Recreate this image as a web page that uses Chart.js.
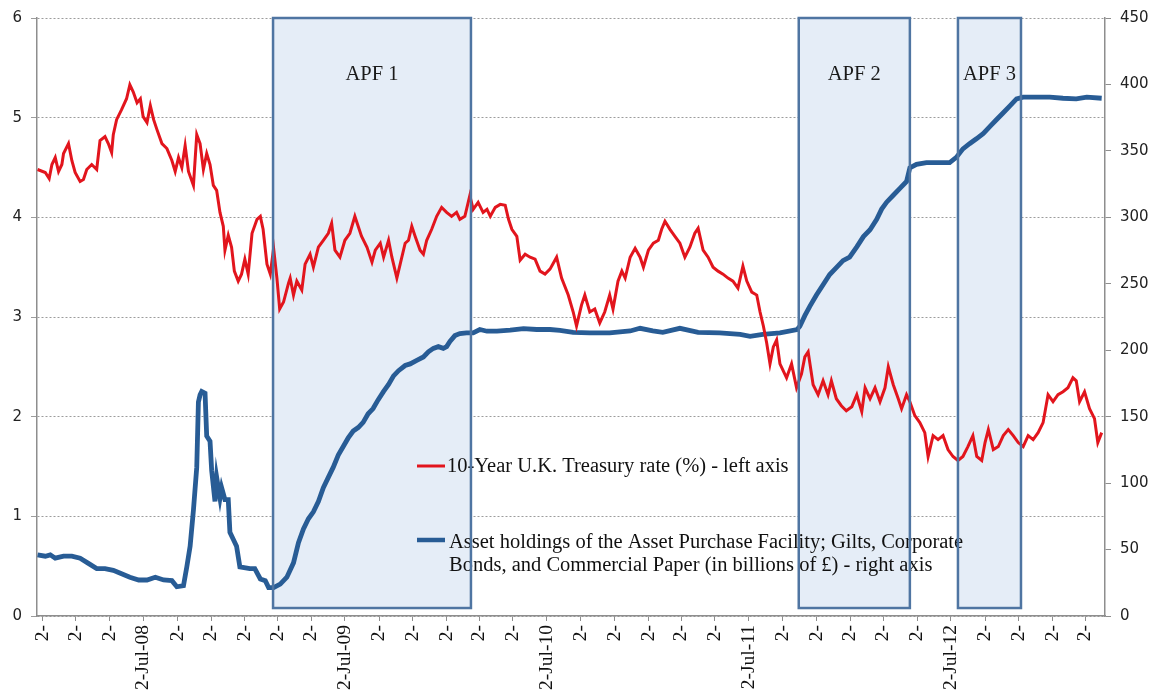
<!DOCTYPE html>
<html>
<head>
<meta charset="utf-8">
<script src="https://cdn.jsdelivr.net/npm/chart.js@4.4.0/dist/chart.umd.min.js"></script>
<style>
  html, body { margin: 0; padding: 0; background: #ffffff; }
  canvas { display: block; }
</style>
</head>
<body>
<canvas id="chart" width="1157" height="694"></canvas>
<script>
// 10-year gilt yield (%), left axis
const rateDates = [
  '2007-12-24','2008-01-07','2008-01-14','2008-01-19','2008-01-25','2008-01-31','2008-02-06','2008-02-09',
  '2008-02-18','2008-02-24','2008-03-01','2008-03-10','2008-03-16','2008-03-22','2008-03-31','2008-04-09',
  '2008-04-15','2008-04-24','2008-04-30','2008-05-06','2008-05-09','2008-05-15','2008-05-24','2008-06-02',
  '2008-06-08','2008-06-14','2008-06-21','2008-06-27','2008-07-02','2008-07-09','2008-07-15','2008-07-21',
  '2008-07-27','2008-08-05','2008-08-14','2008-08-23','2008-08-29','2008-09-04','2008-09-10','2008-09-16',
  '2008-09-22','2008-10-01','2008-10-07','2008-10-13','2008-10-19','2008-10-25','2008-10-31','2008-11-06',
  '2008-11-12','2008-11-18','2008-11-24','2008-11-27','2008-12-03','2008-12-09','2008-12-14','2008-12-21',
  '2008-12-27','2009-01-02','2009-01-08','2009-01-15','2009-01-24','2009-01-30','2009-02-04','2009-02-11',
  '2009-02-17','2009-02-23','2009-03-01','2009-03-06','2009-03-13','2009-03-22','2009-03-25','2009-03-31',
  '2009-04-06','2009-04-15','2009-04-21','2009-04-30','2009-05-06','2009-05-15','2009-05-24','2009-06-02',
  '2009-06-08','2009-06-14','2009-06-23','2009-07-02','2009-07-11','2009-07-20','2009-07-26','2009-08-01',
  '2009-08-11','2009-08-20','2009-08-26','2009-09-04','2009-09-10','2009-09-19','2009-09-25','2009-10-04',
  '2009-10-10','2009-10-19','2009-10-25','2009-10-31','2009-11-06','2009-11-15','2009-11-21','2009-11-27',
  '2009-12-06','2009-12-15','2009-12-24','2010-01-02','2010-01-11','2010-01-20','2010-01-26','2010-02-04',
  '2010-02-13','2010-02-19','2010-02-28','2010-03-09','2010-03-16','2010-03-22','2010-03-31','2010-04-09',
  '2010-04-18','2010-04-24','2010-04-30','2010-05-09','2010-05-15','2010-05-24','2010-06-02','2010-06-11',
  '2010-06-20','2010-06-29','2010-07-08','2010-07-20','2010-07-29','2010-08-10','2010-08-19','2010-08-25',
  '2010-09-03','2010-09-09','2010-09-18','2010-09-27','2010-10-06','2010-10-15','2010-10-24','2010-10-30',
  '2010-11-08','2010-11-15','2010-11-21','2010-11-30','2010-12-09','2010-12-18','2010-12-24','2011-01-02',
  '2011-01-11','2011-01-20','2011-01-26','2011-02-01','2011-02-10','2011-02-19','2011-02-28','2011-03-09',
  '2011-03-18','2011-03-27','2011-04-02','2011-04-11','2011-04-20','2011-04-29','2011-05-08','2011-05-17',
  '2011-05-26','2011-06-04','2011-06-13','2011-06-22','2011-06-29','2011-07-08','2011-07-17','2011-07-23',
  '2011-07-29','2011-08-04','2011-08-10','2011-08-16','2011-08-22','2011-08-28','2011-09-03','2011-09-09',
  '2011-09-18','2011-09-27','2011-10-06','2011-10-12','2011-10-18','2011-10-27','2011-11-05','2011-11-14',
  '2011-11-23','2011-11-29','2011-12-08','2011-12-17','2011-12-26','2012-01-05','2012-01-14','2012-01-23',
  '2012-01-29','2012-02-07','2012-02-16','2012-02-25','2012-03-05','2012-03-11','2012-03-20','2012-03-29',
  '2012-04-04','2012-04-13','2012-04-19','2012-04-28','2012-05-07','2012-05-16','2012-05-22','2012-05-31',
  '2012-06-09','2012-06-18','2012-06-27','2012-07-06','2012-07-15','2012-07-24','2012-08-02','2012-08-11',
  '2012-08-18','2012-08-27','2012-09-02','2012-09-08','2012-09-17','2012-09-26','2012-10-05','2012-10-14',
  '2012-10-23','2012-11-01','2012-11-10','2012-11-19','2012-11-28','2012-12-07','2012-12-16','2012-12-25',
  '2013-01-03','2013-01-12','2013-01-21','2013-01-30','2013-02-08','2013-02-14','2013-02-20','2013-03-01',
  '2013-03-10','2013-03-19','2013-03-25','2013-04-01'
];
const rateValues = [
  4.48,4.45,4.39,4.53,4.60,4.46,4.53,4.64,
  4.74,4.57,4.45,4.36,4.38,4.48,4.53,4.48,
  4.77,4.81,4.74,4.65,4.83,4.98,5.08,5.19,
  5.33,5.26,5.15,5.19,5.01,4.95,5.12,4.98,
  4.88,4.74,4.69,4.57,4.46,4.60,4.50,4.72,
  4.46,4.32,4.83,4.74,4.48,4.64,4.53,4.32,
  4.27,4.05,3.91,3.67,3.82,3.70,3.46,3.36,
  3.43,3.58,3.43,3.84,3.98,4.01,3.88,3.53,
  3.43,3.69,3.39,3.08,3.15,3.34,3.39,3.22,
  3.36,3.27,3.53,3.63,3.50,3.70,3.77,3.84,
  3.94,3.67,3.60,3.77,3.84,4.01,3.91,3.81,
  3.70,3.55,3.67,3.74,3.60,3.77,3.60,3.39,
  3.53,3.74,3.77,3.91,3.81,3.67,3.63,3.77,
  3.88,4.01,4.10,4.05,4.01,4.05,3.98,4.01,
  4.22,4.08,4.15,4.05,4.08,4.01,4.10,4.13,
  4.12,3.98,3.88,3.81,3.57,3.63,3.60,3.58,
  3.46,3.43,3.48,3.60,3.39,3.22,3.05,2.91,
  3.12,3.22,3.05,3.08,2.94,3.05,3.22,3.08,
  3.36,3.46,3.39,3.60,3.69,3.60,3.50,3.67,
  3.74,3.77,3.88,3.96,3.88,3.81,3.74,3.60,
  3.70,3.84,3.89,3.67,3.60,3.50,3.46,3.43,
  3.39,3.36,3.29,3.51,3.36,3.25,3.22,3.05,
  2.91,2.74,2.53,2.70,2.77,2.53,2.46,2.39,
  2.53,2.29,2.43,2.60,2.65,2.32,2.22,2.36,
  2.22,2.36,2.18,2.11,2.06,2.10,2.22,2.05,
  2.29,2.18,2.29,2.15,2.29,2.50,2.32,2.18,
  2.08,2.22,2.15,2.01,1.94,1.84,1.60,1.81,
  1.77,1.81,1.67,1.60,1.56,1.60,1.70,1.81,
  1.60,1.56,1.74,1.87,1.67,1.70,1.81,1.87,
  1.81,1.74,1.70,1.81,1.77,1.84,1.94,2.22,
  2.15,2.22,2.25,2.29,2.39,2.36,2.15,2.25,
  2.08,1.98,1.74,1.84
];

// Asset Purchase Facility holdings (£bn), right axis
const holdingDates = [
  '2007-12-24','2008-01-07','2008-01-16','2008-01-25','2008-02-09','2008-02-24','2008-03-10','2008-03-25',
  '2008-04-09','2008-04-24','2008-05-09','2008-05-24','2008-06-08','2008-06-24','2008-07-09','2008-07-24',
  '2008-08-08','2008-08-23','2008-09-01','2008-09-13','2008-09-19','2008-09-25','2008-10-01','2008-10-07',
  '2008-10-10','2008-10-13','2008-10-16','2008-10-22','2008-10-25','2008-10-31','2008-11-03','2008-11-09',
  '2008-11-12','2008-11-18','2008-11-21','2008-11-27','2008-12-03','2008-12-06','2008-12-12','2008-12-18',
  '2008-12-24','2009-01-11','2009-01-20','2009-01-30','2009-02-08','2009-02-14','2009-02-23','2009-03-07',
  '2009-03-19','2009-03-31','2009-04-09','2009-04-18','2009-04-27','2009-05-06','2009-05-15','2009-05-24',
  '2009-06-02','2009-06-11','2009-06-20','2009-06-29','2009-07-08','2009-07-17','2009-07-26','2009-08-04',
  '2009-08-13','2009-08-22','2009-08-31','2009-09-10','2009-09-19','2009-09-28','2009-10-07','2009-10-19',
  '2009-10-28','2009-11-09','2009-11-21','2009-11-30','2009-12-09','2009-12-18','2009-12-27','2010-01-02',
  '2010-01-08','2010-01-17','2010-01-26','2010-02-07','2010-02-19','2010-03-03','2010-03-16','2010-04-03',
  '2010-04-27','2010-05-21','2010-06-14','2010-07-08','2010-07-26','2010-08-19','2010-09-18','2010-10-24',
  '2010-11-30','2010-12-18','2011-01-10','2011-01-28','2011-02-28','2011-04-02','2011-05-11','2011-06-17',
  '2011-07-05','2011-07-28','2011-08-28','2011-09-28','2011-10-03','2011-10-12','2011-10-21','2011-11-02',
  '2011-11-14','2011-11-26','2011-12-08','2011-12-20','2012-01-01','2012-01-14','2012-01-26','2012-02-07',
  '2012-02-19','2012-02-28','2012-03-08','2012-03-20','2012-04-01','2012-04-13','2012-04-19','2012-05-01',
  '2012-05-19','2012-06-06','2012-06-30','2012-07-12','2012-07-24','2012-08-05','2012-08-18','2012-08-30',
  '2012-09-11','2012-09-23','2012-10-05','2012-10-17','2012-10-29','2012-11-10','2012-12-04','2012-12-28',
  '2013-01-21','2013-02-14','2013-03-05','2013-04-01'
];
const holdingValues = [
  46,45,46,43.5,45,45,43.5,39.6,
  35.7,35.7,34.4,31.8,29.2,27.1,27.1,29.2,
  27.1,26.6,22,22.8,37,52.5,79.7,112,
  161,166.4,169,167.7,135.4,131.5,109.5,86.2,
  104.3,88.8,96.5,87.5,87.5,62.9,57.7,52.5,
  37,35.7,35.7,27.9,26.6,21.4,21.4,24,
  29.2,40,55.1,65.5,73.2,78.4,86.2,96.5,
  104.3,112,121.1,127.6,134,139.2,141.8,145.7,
  152.2,156.1,162.6,169,174.2,180.7,184.6,188.5,
  189.7,192.3,194.9,198.8,201.4,202.7,201.4,202.7,
  206.6,211,212.5,213.1,213.1,215.6,214.3,214.3,
  215.1,216.2,215.6,215.6,215,213.5,213,213,
  214.5,216.5,214.5,213.5,216.5,213.5,213,212,
  210.5,212,213,215.5,218,226,233,241.5,
  249.3,257,262.2,267.4,270,277.8,285.5,290.7,
  298.5,306.2,311.4,316.6,321.8,327,337.3,339.9,
  341.2,341.2,341.2,345.1,351.5,355.4,359.3,363.2,
  368.4,373.6,378.7,383.9,389.1,390.4,390.4,390.4,
  389.6,389.1,390.4,389.6
];

// Bi-monthly date ticks along the bottom axis
const tickDates = [
  '2008-01-02','2008-03-02','2008-05-02','2008-07-02','2008-09-02','2008-11-02',
  '2009-01-02','2009-03-02','2009-05-02','2009-07-02','2009-09-02','2009-11-02',
  '2010-01-02','2010-03-02','2010-05-02','2010-07-02','2010-09-02','2010-11-02',
  '2011-01-02','2011-03-02','2011-05-02','2011-07-02','2011-09-02','2011-11-02',
  '2012-01-02','2012-03-02','2012-05-02','2012-07-02','2012-09-02','2012-11-02',
  '2013-01-02','2013-03-02'
];
const axisStart = '2007-12-23';
const axisEnd = '2013-04-07';

// Asset Purchase Facility programme windows
const apfNames = ['APF 1', 'APF 2', 'APF 3'];
const apfStarts = ['2009-02-22', '2011-10-01', '2012-07-15'];
const apfEnds = ['2010-02-15', '2012-04-19', '2012-11-06'];
const apfTop = 6;
const apfBottom = 0.08;
const apfLabelLevel = 5.43;

const seriesLabels = [
  ['10-Year U.K. Treasury rate (%) - left axis'],
  ['Asset holdings of the Asset Purchase Facility; Gilts, Corporate',
   'Bonds, and Commercial Paper (in billions of £) - right axis']
];

const RED = '#e2151d';
const BLUE = '#285c95';
const BOX_FILL = 'rgb(229, 237, 247)';
const BOX_EDGE = '#4f75a2';
const AXIS_GREY = '#8e8e8e';
const SERIF = '"Liberation Serif", "Times New Roman", serif';
const SANS = '"DejaVu Sans", Verdana, sans-serif';

const DAY_MS = 86400000;
const ORIGIN = Date.UTC(2008, 0, 1);
const MONTHS = ['Jan','Feb','Mar','Apr','May','Jun','Jul','Aug','Sep','Oct','Nov','Dec'];
const toDay = s => (Date.parse(s + 'T00:00:00Z') - ORIGIN) / DAY_MS;

function tickLabel(dayValue) {
  const d = new Date(ORIGIN + Math.round(dayValue) * DAY_MS);
  if (d.getUTCMonth() === 6) {
    return d.getUTCDate() + '-' + MONTHS[6] + '-' + String(d.getUTCFullYear()).slice(2);
  }
  return d.getUTCDate() + '-';
}

const ratePoints = rateDates.map((d, i) => ({ x: toDay(d), y: rateValues[i] }));
const holdingPoints = holdingDates.map((d, i) => ({ x: toDay(d), y: holdingValues[i] }));

function boxRects(chart) {
  const x = chart.scales.x, y = chart.scales.yL;
  return apfNames.map((name, i) => {
    const x1 = x.getPixelForValue(toDay(apfStarts[i]));
    const x2 = x.getPixelForValue(toDay(apfEnds[i]));
    const y1 = y.getPixelForValue(apfTop);
    const y2 = y.getPixelForValue(apfBottom);
    return { name, x1, x2, y1, y2 };
  });
}

const apfPlugin = {
  id: 'apfWindows',
  beforeDatasetsDraw(chart) {
    const ctx = chart.ctx;
    ctx.save();
    ctx.fillStyle = BOX_FILL;
    boxRects(chart).forEach(r => ctx.fillRect(r.x1, r.y1, r.x2 - r.x1, r.y2 - r.y1));
    ctx.restore();
  },
  afterDatasetsDraw(chart) {
    const ctx = chart.ctx;
    const area = chart.chartArea;
    ctx.save();

    // in-plot legend
    const lx = area.left + 380;
    const sample = 28;
    ctx.font = '20.5px ' + SERIF;
    ctx.fillStyle = '#111';
    ctx.textBaseline = 'middle';
    ctx.textAlign = 'left';
    ctx.lineCap = 'butt';

    ctx.strokeStyle = RED;
    ctx.lineWidth = 3;
    ctx.beginPath(); ctx.moveTo(lx, 466); ctx.lineTo(lx + sample, 466); ctx.stroke();
    ctx.fillText(seriesLabels[0][0], lx + sample + 2, 467);

    ctx.strokeStyle = BLUE;
    ctx.lineWidth = 4.5;
    ctx.beginPath(); ctx.moveTo(lx, 540); ctx.lineTo(lx + sample, 540); ctx.stroke();
    seriesLabels[1].forEach((line, k) => ctx.fillText(line, lx + sample + 4, 543 + k * 23));

    // programme windows: outlines and names
    const rects = boxRects(chart);
    ctx.strokeStyle = BOX_EDGE;
    ctx.lineWidth = 2.5;
    rects.forEach(r => ctx.strokeRect(r.x1, r.y1, r.x2 - r.x1, r.y2 - r.y1));

    ctx.textAlign = 'center';
    ctx.fillStyle = '#1a1a1a';
    const ly = chart.scales.yL.getPixelForValue(apfLabelLevel);
    rects.forEach(r => ctx.fillText(r.name, (r.x1 + r.x2) / 2, ly));
    ctx.restore();
  }
};

new Chart(document.getElementById('chart'), {
  type: 'line',
  data: {
    datasets: [
      {
        label: seriesLabels[0][0],
        data: ratePoints,
        yAxisID: 'yL',
        borderColor: RED,
        borderWidth: 3,
        pointRadius: 0,
        tension: 0,
        fill: false
      },
      {
        label: seriesLabels[1].join(' '),
        data: holdingPoints,
        yAxisID: 'yR',
        borderColor: BLUE,
        borderWidth: 4.8,
        pointRadius: 0,
        tension: 0,
        fill: false
      }
    ]
  },
  options: {
    responsive: false,
    animation: false,
    devicePixelRatio: 1,
    layout: { padding: { top: 17, left: 0, right: 0, bottom: 0 } },
    plugins: { legend: { display: false }, tooltip: { enabled: false } },
    scales: {
      x: {
        type: 'linear',
        min: toDay(axisStart),
        max: toDay(axisEnd),
        afterBuildTicks: scale => { scale.ticks = tickDates.map(d => ({ value: toDay(d) })); },
        afterFit: scale => { scale.height = 78; },
        grid: { drawOnChartArea: false, drawTicks: true, tickLength: 5, color: AXIS_GREY, lineWidth: 1 },
        border: { color: AXIS_GREY, width: 1.5 },
        ticks: {
          autoSkip: false,
          minRotation: 90,
          maxRotation: 90,
          padding: 4,
          color: '#111',
          font: { family: SERIF, size: 19.5 },
          callback: value => tickLabel(value)
        }
      },
      yL: {
        position: 'left',
        min: 0,
        max: 6,
        afterFit: scale => { scale.width = 37; },
        grid: { color: '#9c9c9c', lineWidth: 1, tickLength: 6 },
        border: { color: AXIS_GREY, width: 1.5, dash: [2, 2] },
        ticks: { stepSize: 1, padding: 9, color: '#222', font: { family: SANS, size: 15 } }
      },
      yR: {
        position: 'right',
        min: 0,
        max: 450,
        afterFit: scale => { scale.width = 52; },
        grid: { drawOnChartArea: false, color: AXIS_GREY, lineWidth: 1, tickLength: 6 },
        border: { color: AXIS_GREY, width: 1.5 },
        ticks: { stepSize: 50, padding: 9, color: '#222', font: { family: SANS, size: 15 } }
      }
    }
  },
  plugins: [apfPlugin]
});
</script>
</body>
</html>
